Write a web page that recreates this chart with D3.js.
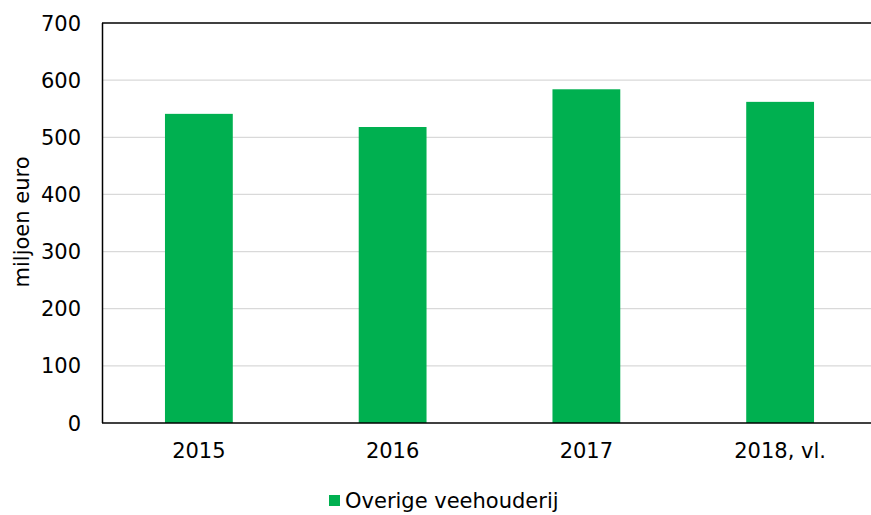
<!DOCTYPE html>
<html>
<head>
<meta charset="utf-8">
<script src="https://cdn.jsdelivr.net/npm/d3@7"></script>
<style>
  body { margin: 0; background: #fff; }
  text { font-family: "DejaVu Sans", Verdana, sans-serif; fill: #000; font-size: 21px; }
</style>
</head>
<body>
<svg id="chart"></svg>
<script>
var years = ["2015", "2016", "2017", "2018, vl."];
var values = [541, 518, 584, 562];
var yTicks = [0, 100, 200, 300, 400, 500, 600, 700];
var seriesName = "Overige veehouderij";

var width = 871, height = 515;
var svg = d3.select("#chart").attr("width", width).attr("height", height);

var x = d3.scaleBand().domain(years).range([102, 877])
    .paddingInner(0.65).paddingOuter(0.325);
var y = d3.scaleLinear().domain([0, 700]).range([423, 23]);

// gridlines
svg.append("g").selectAll("line")
    .data(yTicks.filter(function(d) { return d > 0 && d < 700; }))
    .enter().append("line")
    .attr("x1", 102).attr("x2", width)
    .attr("y1", function(d) { return y(d); })
    .attr("y2", function(d) { return y(d); })
    .attr("stroke", "#d9d9d9").attr("stroke-width", 1.3);

// bars
svg.append("g").selectAll("rect")
    .data(values)
    .enter().append("rect")
    .attr("x", function(d, i) { return x(years[i]); })
    .attr("width", x.bandwidth())
    .attr("y", function(d) { return y(d); })
    .attr("height", function(d) { return y(0) - y(d); })
    .attr("fill", "#00b050");

// frame lines
svg.append("line").attr("x1", 102).attr("x2", width)
    .attr("y1", y(700)).attr("y2", y(700))
    .attr("stroke", "#000").attr("stroke-width", 1.5);
svg.append("line").attr("x1", 102).attr("x2", width)
    .attr("y1", y(0)).attr("y2", y(0))
    .attr("stroke", "#000").attr("stroke-width", 1.5);
svg.append("line").attr("x1", 102.5).attr("x2", 102.5)
    .attr("y1", y(700)).attr("y2", y(0))
    .attr("stroke", "#000").attr("stroke-width", 1.5);

// y tick labels
svg.append("g").selectAll("text")
    .data(yTicks)
    .enter().append("text")
    .attr("x", 81)
    .attr("y", function(d) { return y(d); })
    .attr("dy", "0.36em")
    .attr("text-anchor", "end")
    .text(function(d) { return d; });

// x labels
svg.append("g").selectAll("text")
    .data(years)
    .enter().append("text")
    .attr("x", function(d) { return x(d) + x.bandwidth() / 2; })
    .attr("y", 458)
    .attr("text-anchor", "middle")
    .text(function(d) { return d; });

// y axis title
svg.append("text")
    .attr("transform", "translate(29,222) rotate(-90)")
    .attr("text-anchor", "middle")
    .text("miljoen euro");

// legend
svg.append("rect").attr("x", 329).attr("y", 495)
    .attr("width", 11).attr("height", 11).attr("fill", "#00b050");
svg.append("text").attr("x", 345).attr("y", 508)
    .text(seriesName);
</script>
</body>
</html>
